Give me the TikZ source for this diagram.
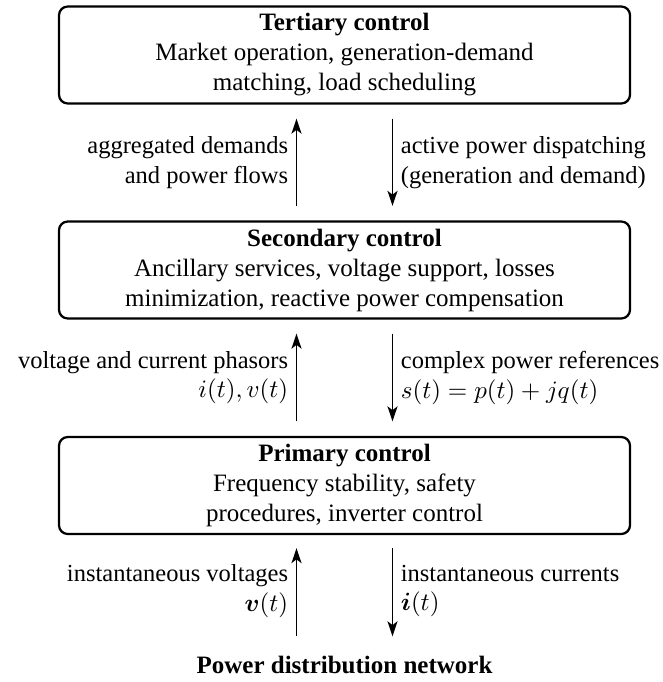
\documentclass[tikz,border=0pt]{standalone}
\usepackage{amsmath}
\usepackage{fontspec}
\setmainfont{Liberation Serif}
\usetikzlibrary{arrows.meta}
\begin{document}
\begin{tikzpicture}[
  ctrlbox/.style={draw, line width=0.9pt, rounded corners=3.5pt, align=center,
    minimum width=228.4pt, minimum height=38.8pt, inner sep=2pt},
  flow/.style={line width=0.7pt, -{Stealth[length=6pt,width=4pt,inset=1.5pt]}},
  lbl/.style={font=\fontsize{9.8pt}{11.8pt}\selectfont, inner sep=3pt}
]
\useasboundingbox (0,0) rectangle (264.8pt,-272.8pt);

\node[ctrlbox] (tert) at (137.8pt,-22pt) {\textbf{Tertiary control}\\Market operation, generation-demand\\matching, load scheduling};
\node[ctrlbox] (sec) at (137.8pt,-108pt) {\textbf{Secondary control}\\Ancillary services, voltage support, losses\\minimization, reactive power compensation};
\node[ctrlbox] (prim) at (137.8pt,-194.2pt) {\textbf{Primary control}\\Frequency stability, safety\\procedures, inverter control};
\node[font=\bfseries, anchor=base] (net) at (137.8pt,-269.2pt) {Power distribution network};

% tertiary <-> secondary
\draw[flow, shorten <=5.8pt, shorten >=5.6pt] ([xshift=-19.2pt]sec.north) -- ([xshift=-19.2pt]tert.south)
  node[midway, left, align=right, lbl] {aggregated demands\\and power flows};
\draw[flow, shorten <=5.6pt, shorten >=5.8pt] ([xshift=19.2pt]tert.south) -- ([xshift=19.2pt]sec.north)
  node[midway, right, align=left, lbl] {active power dispatching\\(generation and demand)};

% secondary <-> primary
\draw[flow, shorten <=5.8pt, shorten >=5.6pt] ([xshift=-19.2pt]prim.north) -- ([xshift=-19.2pt]sec.south)
  node[midway, left, align=right, lbl] {voltage and current phasors\\$i(t), v(t)$};
\draw[flow, shorten <=5.6pt, shorten >=5.8pt] ([xshift=19.2pt]sec.south) -- ([xshift=19.2pt]prim.north)
  node[midway, right, align=left, lbl] {complex power references\\$s(t)=p(t)+jq(t)$};

% primary <-> network
\draw[flow, shorten <=4.2pt, shorten >=5.2pt] ([xshift=-19.2pt]net.north) -- ([xshift=-19.2pt]prim.south)
  node[midway, left, align=right, lbl] {instantaneous voltages\\$\boldsymbol{v}(t)$};
\draw[flow, shorten <=5.2pt, shorten >=4.2pt] ([xshift=19.2pt]prim.south) -- ([xshift=19.2pt]net.north)
  node[midway, right, align=left, lbl] {instantaneous currents\\$\boldsymbol{i}(t)$};
\end{tikzpicture}
\end{document}
